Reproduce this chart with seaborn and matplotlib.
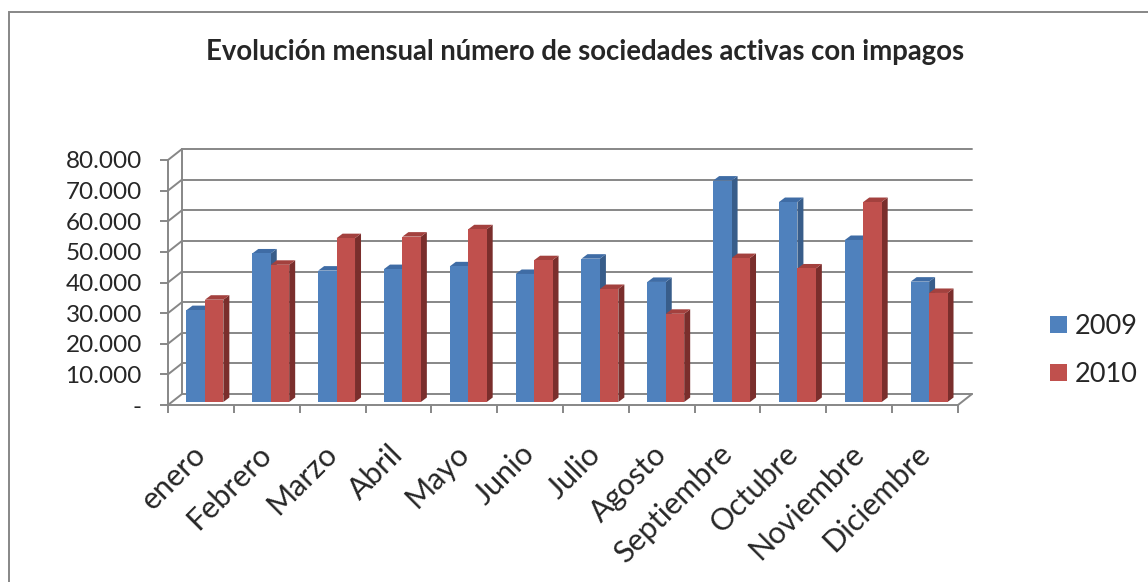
import matplotlib
matplotlib.use("Agg")
import matplotlib.pyplot as plt
import matplotlib.colors as mcolors
import seaborn as sns
import pandas as pd
from matplotlib.patches import Polygon, Patch, Rectangle
from matplotlib.lines import Line2D
from matplotlib.transforms import ScaledTranslation, IdentityTransform
from matplotlib.ticker import FuncFormatter, FixedLocator

# datos
meses = ["enero", "Febrero", "Marzo", "Abril", "Mayo", "Junio", "Julio",
         "Agosto", "Septiembre", "Octubre", "Noviembre", "Diciembre"]
anios = ["2009", "2010"]
valores_2009 = [30000, 48500, 42900, 43400, 44300, 41800, 46800, 39200, 72300, 65300, 52900, 39300]
valores_2010 = [33400, 44800, 53500, 54000, 56400, 46300, 36900, 28800, 47000, 43600, 65300, 35600]
ticks_y = [0, 10000, 20000, 30000, 40000, 50000, 60000, 70000, 80000]

colores = {"2009": "#4f81bd", "2010": "#c0504d"}
laterales = {"2009": "#385d8a", "2010": "#7a2e2c"}
techos = {"2009": "#3f6ca5", "2010": "#a3413e"}
gris = "#878787"

df = pd.DataFrame({
    "mes": meses * 2,
    "anio": ["2009"] * len(meses) + ["2010"] * len(meses),
    "valor": valores_2009 + valores_2010,
})

sns.set_style("white")
plt.rcParams["font.family"] = ["Lato", "DejaVu Sans"]

W, H, DPI = 1148, 582, 100
fig = plt.figure(figsize=(W / DPI, H / DPI), dpi=DPI)
ax = fig.add_axes([168 / W, 177 / H, 790 / W, 245 / H])

sns.barplot(data=df, x="mes", y="valor", hue="anio", order=meses, hue_order=anios,
            palette=colores, width=0.56, saturation=1, dodge=True, legend=False, ax=ax)

ax.set_xlim(-0.5, len(meses) - 0.5)
ax.set_ylim(0, 80000)
ax.set_xlabel("")
ax.set_ylabel("")

# profundidad (efecto 3D en pixeles)
DX, DY = 14, 11       # pared del fondo
BX, BY = 6, 4.5       # lado y techo de las barras
shift = ScaledTranslation(4 / DPI, 3 / DPI, fig.dpi_scale_trans)
trans_barras = ax.transData + shift

def px(x, y):
    return ax.transData.transform((x, y))

def anio_de(bar):
    fc = mcolors.to_hex(bar.get_facecolor())
    for a in anios:
        if fc == mcolors.to_hex(colores[a]):
            return a
    return anios[0]

# caras laterales y techos
for bar in ax.patches:
    anio = anio_de(bar)
    bar.set_transform(trans_barras)
    bar.set_zorder(3)
    bar.set_edgecolor("none")
    (x0, y0), (x1, y1) = trans_barras.transform(
        [(bar.get_x(), bar.get_y()), (bar.get_x() + bar.get_width(), bar.get_y() + bar.get_height())])
    lado = Polygon([(x1, y0), (x1, y1), (x1 + BX, y1 + BY), (x1 + BX, y0 + BY)],
                   closed=True, facecolor=laterales[anio], edgecolor="none",
                   transform=IdentityTransform(), zorder=2.5)
    techo = Polygon([(x0, y1), (x1, y1), (x1 + BX, y1 + BY), (x0 + BX, y1 + BY)],
                    closed=True, facecolor=techos[anio], edgecolor="none",
                    transform=IdentityTransform(), zorder=2.5)
    ax.add_artist(lado)
    ax.add_artist(techo)

# pared del fondo: lineas de division y diagonales
n = len(meses)
xl, xr = -0.5, n - 0.5
for v in ticks_y:
    (ax0, ay), (bx0, _) = px(xl, v), px(xr, v)
    ax.add_artist(Line2D([ax0 + DX, bx0 + DX], [ay + DY, ay + DY], color=gris, lw=1.4,
                         transform=IdentityTransform(), zorder=1, clip_on=False))
    ax.add_artist(Line2D([ax0, ax0 + DX], [ay, ay + DY], color=gris, lw=1.4,
                         transform=IdentityTransform(), zorder=1, clip_on=False))
(lx, ly0), (_, ly1) = px(xl, 0), px(xl, 80000)
ax.add_artist(Line2D([lx + DX, lx + DX], [ly0 + DY, ly1 + DY], color=gris, lw=1.4,
                     transform=IdentityTransform(), zorder=1, clip_on=False))
rx, ry = px(xr, 0)
ax.add_artist(Line2D([rx, rx + DX], [ry, ry + DY], color=gris, lw=1.4,
                     transform=IdentityTransform(), zorder=1, clip_on=False))

# ejes frontales
for s in ["top", "right"]:
    ax.spines[s].set_visible(False)
for s in ["left", "bottom"]:
    ax.spines[s].set_color(gris)
    ax.spines[s].set_linewidth(1.4)
    ax.spines[s].set_zorder(4)

ax.yaxis.set_major_locator(FixedLocator(ticks_y))
ax.yaxis.set_major_formatter(FuncFormatter(
    lambda v, p: "-" if v == 0 else f"{int(v):,}".replace(",", ".")))
ax.tick_params(axis="y", direction="out", length=5.8, width=1.4, color=gris,
               labelsize=17.5, pad=13, left=True)

ax.set_xticks(range(n))
ax.set_xticks([k - 0.5 for k in range(n + 1)], minor=True)
ax.set_xticklabels(meses)
ax.tick_params(axis="x", which="major", length=0, labelsize=22, pad=32)
ax.tick_params(axis="x", which="minor", direction="out", length=5.8, width=1.4,
               color=gris, bottom=True)
plt.setp(ax.get_xticklabels(), rotation=45, ha="right", va="center", rotation_mode="anchor")
ax.grid(False)

# titulo
fig.text(0.5096, 0.911, "Evolución mensual número de sociedades activas con impagos",
         ha="center", va="center", fontsize=19.8, fontweight="bold")

# leyenda
handles = [Patch(facecolor=colores[a], edgecolor="none", label=a) for a in anios]
fig.legend(handles=handles, loc="center left", bbox_to_anchor=(1050 / W, 0.398),
           frameon=False, fontsize=19.5, handlelength=0.62, handleheight=0.62,
           handletextpad=0.3, labelspacing=0.85, borderpad=0, borderaxespad=0)

# marco del grafico
fig.add_artist(Rectangle((9 / W, -0.05), 1.2, 0.05 + (H - 12) / H, transform=fig.transFigure,
                         fill=False, edgecolor=gris, lw=1.4))

fig.savefig("out.png", dpi=DPI)
